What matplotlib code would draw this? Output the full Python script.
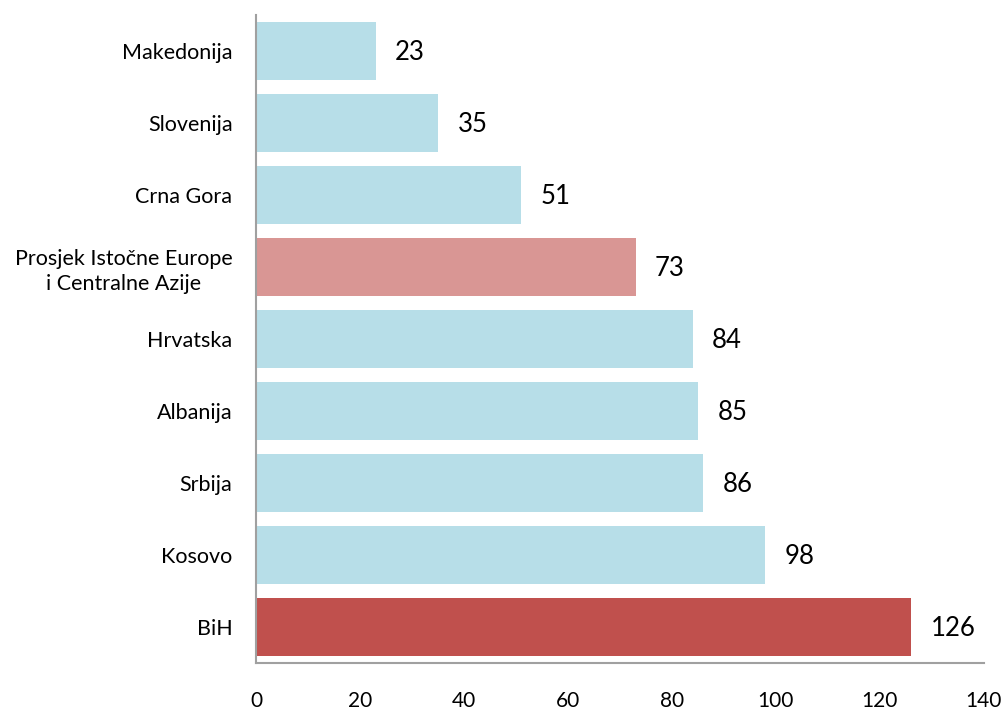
import matplotlib.pyplot as plt

plt.rcParams['font.family'] = ['Lato', 'DejaVu Sans']

countries = ['Makedonija', 'Slovenija', 'Crna Gora',
             'Prosjek Istočne Europe\ni Centralne Azije',
             'Hrvatska', 'Albanija', 'Srbija', 'Kosovo', 'BiH']
values = [23, 35, 51, 73, 84, 85, 86, 98, 126]
bar_colors = ['#B7DEE8', '#B7DEE8', '#B7DEE8', '#D99694',
              '#B7DEE8', '#B7DEE8', '#B7DEE8', '#B7DEE8', '#C0504D']
xticks = [0, 20, 40, 60, 80, 100, 120, 140]

fig = plt.figure(figsize=(10.08, 7.09), dpi=100)
ax = fig.add_axes([0.254, 0.065, 0.722, 0.914])

pos = range(len(countries))
ax.barh(pos, values, height=0.8, color=bar_colors)

for i, v in enumerate(values):
    ax.annotate(str(v), (v, i), xytext=(14, -1), textcoords='offset points',
                va='center', ha='left', fontsize=18.5)

ax.set_xlim(0, 140)
ax.set_ylim(len(countries) - 0.5, -0.5)
ax.set_xticks(xticks)
ax.set_yticks(list(pos))
ax.set_yticklabels(countries, ha='right', multialignment='center',
                   linespacing=1.35)
ax.tick_params(axis='y', length=0, pad=17, labelsize=15.5)
ax.tick_params(axis='x', length=0, pad=20, labelsize=15)

for s in ['top', 'right']:
    ax.spines[s].set_visible(False)
for s in ['left', 'bottom']:
    ax.spines[s].set_color('#A0A0A0')
    ax.spines[s].set_linewidth(1.5)

plt.savefig('out.png', dpi=100)
